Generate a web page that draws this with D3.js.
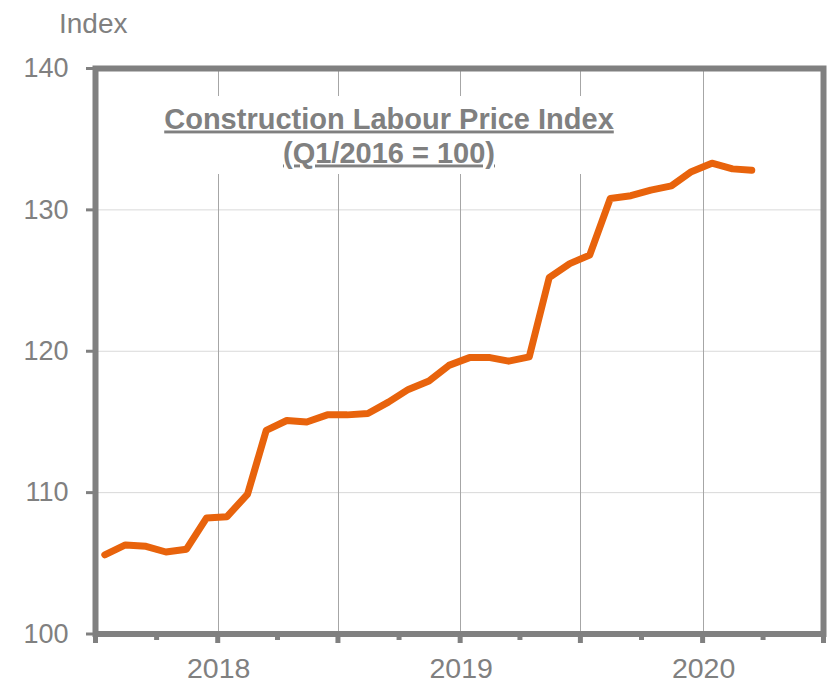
<!DOCTYPE html>
<html>
<head>
<meta charset="utf-8">
<script src="https://cdn.jsdelivr.net/npm/d3@7"></script>
<style>
  html, body { margin: 0; padding: 0; background: #fff; }
  svg { display: block; font-family: "Liberation Sans", Arial, sans-serif; }
</style>
</head>
<body>
<svg id="chart"></svg>
<script>
// monthly observations, Jul 2017 .. Mar 2020
const months = [
  '2017-07', '2017-08', '2017-09', '2017-10', '2017-11', '2017-12',
  '2018-01', '2018-02', '2018-03', '2018-04', '2018-05', '2018-06',
  '2018-07', '2018-08', '2018-09', '2018-10', '2018-11', '2018-12',
  '2019-01', '2019-02', '2019-03', '2019-04', '2019-05', '2019-06',
  '2019-07', '2019-08', '2019-09', '2019-10', '2019-11', '2019-12',
  '2020-01', '2020-02', '2020-03'
];
const indexValues = [
  105.6, 106.3, 106.2, 105.8, 106.0, 108.2,
  108.3, 109.9, 114.4, 115.1, 115.0, 115.5,
  115.5, 115.6, 116.4, 117.3, 117.9, 119.0,
  119.55, 119.55, 119.3, 119.6, 125.2, 126.2,
  126.8, 130.8, 131.0, 131.4, 131.7, 132.7,
  133.3, 132.9, 132.8
];
const yTicks = [100, 110, 120, 130, 140];
const yearLabels = ['2018', '2019', '2020'];
const titleLines = ['Construction Labour Price Index', '(Q1/2016 = 100)'];

const width = 837;
const height = 683;
const axisColor = '#808080';
const lineColor = '#e8630c';

const svg = d3.select('#chart')
  .attr('width', width)
  .attr('height', height);

const parseMonth = d3.timeParse('%Y-%m');
// points sit mid-month
const points = months.map((m, i) => ({
  date: d3.timeDay.offset(parseMonth(m), 14),
  value: indexValues[i]
}));

const x = d3.scaleTime()
  .domain([new Date(2017, 6, 1), new Date(2020, 6, 1)])
  .range([95.5, 823.5]);

const y = d3.scaleLinear()
  .domain([100, 140])
  .range([634, 68.5]);

const quarterTicks = d3.timeMonth.every(3).range(new Date(2017, 6, 1), new Date(2020, 6, 2));
const isMajor = d => d.getMonth() === 0 || d.getMonth() === 6;

// 水平网格线
svg.append('g')
  .selectAll('line')
  .data(yTicks.filter(v => v > 100 && v < 140))
  .join('line')
  .attr('x1', x.range()[0])
  .attr('x2', x.range()[1])
  .attr('y1', d => y(d))
  .attr('y2', d => y(d))
  .attr('stroke', '#d9d9d9')
  .attr('stroke-width', 1);

// 垂直网格线（半年）
svg.append('g')
  .selectAll('line')
  .data(quarterTicks.filter(d => isMajor(d) && x(d) > 100 && x(d) < 820))
  .join('line')
  .attr('x1', d => Math.round(x(d)) + 0.5)
  .attr('x2', d => Math.round(x(d)) + 0.5)
  .attr('y1', y(140))
  .attr('y2', y(100))
  .attr('stroke', '#a6a6a6')
  .attr('stroke-width', 1);

// title background box
svg.append('rect')
  .attr('x', 152)
  .attr('y', 96)
  .attr('width', 478)
  .attr('height', 78)
  .attr('fill', '#fff');

// 数据线
const line = d3.line()
  .x(d => x(d.date))
  .y(d => y(d.value));

svg.append('path')
  .datum(points)
  .attr('d', line)
  .attr('fill', 'none')
  .attr('stroke', lineColor)
  .attr('stroke-width', 7)
  .attr('stroke-linejoin', 'round')
  .attr('stroke-linecap', 'round');

// 边框
svg.append('rect')
  .attr('x', x.range()[0])
  .attr('y', y(140))
  .attr('width', x.range()[1] - x.range()[0])
  .attr('height', y(100) - y(140))
  .attr('fill', 'none')
  .attr('stroke', axisColor)
  .attr('stroke-width', 6);

// x ticks
svg.append('g')
  .selectAll('line')
  .data(quarterTicks)
  .join('line')
  .attr('x1', d => x(d))
  .attr('x2', d => x(d))
  .attr('y1', y(100))
  .attr('y2', d => y(100) + (isMajor(d) ? 9 : 6))
  .attr('stroke', axisColor)
  .attr('stroke-width', 5);

// y ticks
svg.append('g')
  .selectAll('line')
  .data(yTicks)
  .join('line')
  .attr('x1', 86)
  .attr('x2', x.range()[0])
  .attr('y1', d => y(d))
  .attr('y2', d => y(d))
  .attr('stroke', axisColor)
  .attr('stroke-width', 3);

// y labels
svg.append('g')
  .selectAll('text')
  .data(yTicks)
  .join('text')
  .attr('x', 68.5)
  .attr('y', d => y(d))
  .attr('dy', '0.32em')
  .attr('text-anchor', 'end')
  .attr('font-size', 27)
  .attr('fill', axisColor)
  .text(d => d);

// x labels
svg.append('g')
  .selectAll('text')
  .data(yearLabels)
  .join('text')
  .attr('x', d => x(new Date(+d, 0, 1)) + 1)
  .attr('y', 677.5)
  .attr('text-anchor', 'middle')
  .attr('font-size', 28.5)
  .attr('fill', axisColor)
  .text(d => d);

// axis title
svg.append('text')
  .attr('x', 59)
  .attr('y', 32.5)
  .attr('font-size', 28)
  .attr('fill', axisColor)
  .text('Index');

// 图表标题
svg.append('g')
  .selectAll('text')
  .data(titleLines)
  .join('text')
  .attr('x', 389)
  .attr('y', (d, i) => 128.5 + i * 34)
  .attr('text-anchor', 'middle')
  .attr('font-size', 29)
  .attr('font-weight', 'bold')
  .attr('fill', axisColor)
  .attr('text-decoration', 'underline')
  .text(d => d);
</script>
</body>
</html>
